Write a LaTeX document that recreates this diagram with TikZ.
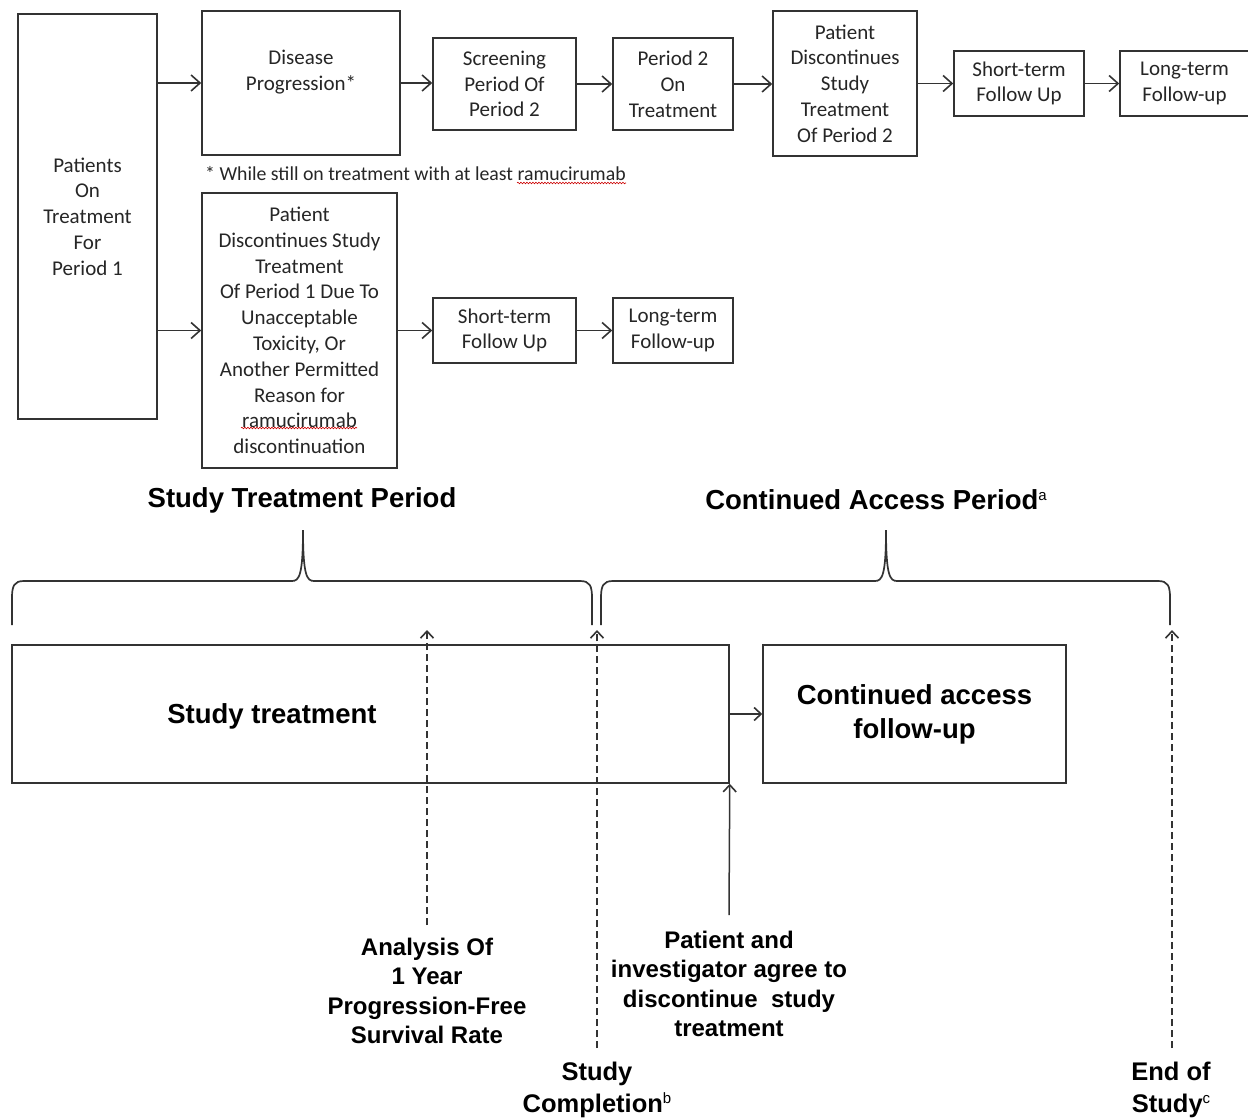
\documentclass[tikz,border=0pt]{standalone}
\usepackage{fontspec}
\setmainfont{Carlito}
\newfontfamily\arialf{Liberation Sans}
\usetikzlibrary{arrows.meta,decorations.pathmorphing}
\definecolor{ln}{HTML}{333333}
\definecolor{tx}{HTML}{262626}
\newcommand{\supmark}[1]{\raisebox{9pt}{\fontsize{15}{15}\selectfont\mdseries #1}}
\begin{document}
\begin{tikzpicture}[x=1pt,y=-1pt,
  box/.style={draw=ln, line width=1.5pt, inner sep=0pt, align=center, text=tx,
    font=\fontsize{21}{25.8}\selectfont},
  arr/.style={draw=ln, line width=1.5pt, -{Straight Barb[length=9pt,width=16pt,line width=1.6pt]}},
  sarr/.style={draw=ln, line width=1.5pt, -{Straight Barb[length=7pt,width=13pt,line width=1.6pt]}},
  dsh/.style={draw=ln, line width=1.8pt, dash pattern=on 7pt off 4pt, -{Straight Barb[length=7pt,width=13pt,line width=1.6pt]}},
  brace/.style={draw=ln, line width=1.7pt},
  lab/.style={align=center, inner sep=0pt, font=\arialf\bfseries\fontsize{24}{29.3}\selectfont},
  ends/.style={align=center, inner sep=0pt, font=\arialf\bfseries\fontsize{25.5}{32}\selectfont},
  head/.style={inner sep=0pt, font=\arialf\bfseries\fontsize{27.5}{33}\selectfont},
  big/.style={align=center, inner sep=0pt, font=\arialf\bfseries\fontsize{27.5}{34}\selectfont},
  bbox/.style={draw=ln, line width=1.5pt, inner sep=0pt},
  squig/.style={draw=red!80!black, line width=0.6pt, decorate, decoration={snake, amplitude=0.8pt, segment length=3pt}}
]
\useasboundingbox (0,0) rectangle (1248,1118);
\fill[white] (0,0) rectangle (1248,1118);

% ---------- top flow ----------
\node[box, minimum width=139pt, minimum height=405pt] (pat) at (87.5,216.5) {Patients\\On\\Treatment\\For\\Period 1};
\node[box, minimum width=198pt, minimum height=144pt] (dp) at (301,83) {Disease\\Progression*\\\phantom{X}};
\node[box, minimum width=143pt, minimum height=92pt] (scr) at (504.5,84) {Screening\\Period Of\\Period 2};
\node[box, minimum width=120pt, minimum height=92pt] (p2) at (673,84) {Period 2\\On\\Treatment};
\node[box, minimum width=144pt, minimum height=145pt] (dsp2) at (845,83.5) {Patient\\Discontinues\\Study\\Treatment\\Of Period 2};
\node[box, minimum width=130pt, minimum height=65pt] (stf1) at (1019,83.5) {Short-term\\Follow Up};
\node[box, minimum width=129pt, minimum height=65pt] (ltf1) at (1184.5,83.5) {Long-term\\Follow-up};

\node[anchor=west, inner sep=0pt, text=tx, font=\fontsize{19.8}{24}\selectfont] (fn) at (205,174) {* While still on treatment with at least ramucirumab};

\node[box, minimum width=195pt, minimum height=275pt] (dsp1) at (299.5,330.5) {Patient\\Discontinues Study\\Treatment\\Of Period 1 Due To\\Unacceptable\\Toxicity, Or\\Another Permitted\\Reason for\\ramucirumab\\discontinuation};
\node[box, minimum width=143pt, minimum height=65pt] (stf2) at (504.5,330.5) {Short-term\\Follow Up};
\node[box, minimum width=120pt, minimum height=65pt] (ltf2) at (673,330.5) {Long-term\\Follow-up};

\draw[squig] (517,183) -- (626,183);
\draw[squig] (241,428) -- (357,428);

\draw[arr] (dp.west -| pat.east) -- (dp.west);
\draw[arr] (dsp1.west -| pat.east) -- (dsp1.west);
\draw[arr] (dp.east) -- (dp.east -| scr.west);
\draw[arr] (scr.east) -- (p2.west);
\draw[arr] (p2.east) -- (p2.east -| dsp2.west);
\draw[arr] (dsp2.east) -- (stf1.west);
\draw[arr] (stf1.east) -- (ltf1.west);
\draw[arr] (dsp1.east) -- (stf2.west);
\draw[arr] (stf2.east) -- (ltf2.west);

% ---------- bottom timeline ----------
\node[head] (h1) at (302,500) {Study Treatment Period};
\node[head] (h2) at (876,500) {Continued Access Period\supmark{a}};

\draw[brace] (12,625) -- (12,598) .. controls (12,586) and (14,581) .. (24,581) -- (292,581)
  .. controls (299,581) and (303,576) .. (303,530)
  .. controls (303,576) and (307,581) .. (314,581) -- (580,581)
  .. controls (590,581) and (592,586) .. (592,598) -- (592,625);
\draw[brace] (601,625) -- (601,598) .. controls (601,586) and (603,581) .. (613,581) -- (875,581)
  .. controls (882,581) and (886,576) .. (886,530)
  .. controls (886,576) and (890,581) .. (897,581) -- (1158,581)
  .. controls (1168,581) and (1170,586) .. (1170,598) -- (1170,625);

\node[bbox, minimum width=717pt, minimum height=138pt] (st) at (370.5,714) {};
\node[big] (stt) at (272,716) {Study treatment};
\node[bbox, big, minimum width=303pt, minimum height=138pt] (cab) at (914.5,714) {Continued access\\follow-up};
\draw[sarr] (st.east) -- (cab.west);

\node[lab] (ana) at (427,991) {Analysis Of\\1 Year\\Progression-Free\\Survival Rate};
\node[lab] (agr) at (729,984) {Patient and\\investigator agree to\\discontinue~ study\\treatment};
\node[ends] (sc) at (597,1090) {Study\\Completion\supmark{b}};
\node[ends] (eos) at (1171,1090) {End of\\Study\supmark{c}};

\coordinate (t1) at (427,630);
\coordinate (t2) at (597,630);
\coordinate (t3) at (1172,630);
\coordinate (b1) at (427,925);
\coordinate (b2) at (597,1048);
\coordinate (b3) at (1172,1048);
\draw[dsh] (b1) -- (t1);
\draw[dsh] (b2) -- (t2);
\draw[dsh] (b3) -- (t3);
\coordinate (b4) at (729,915);
\draw[sarr] (b4) -- (st.south east);
\end{tikzpicture}
\end{document}
